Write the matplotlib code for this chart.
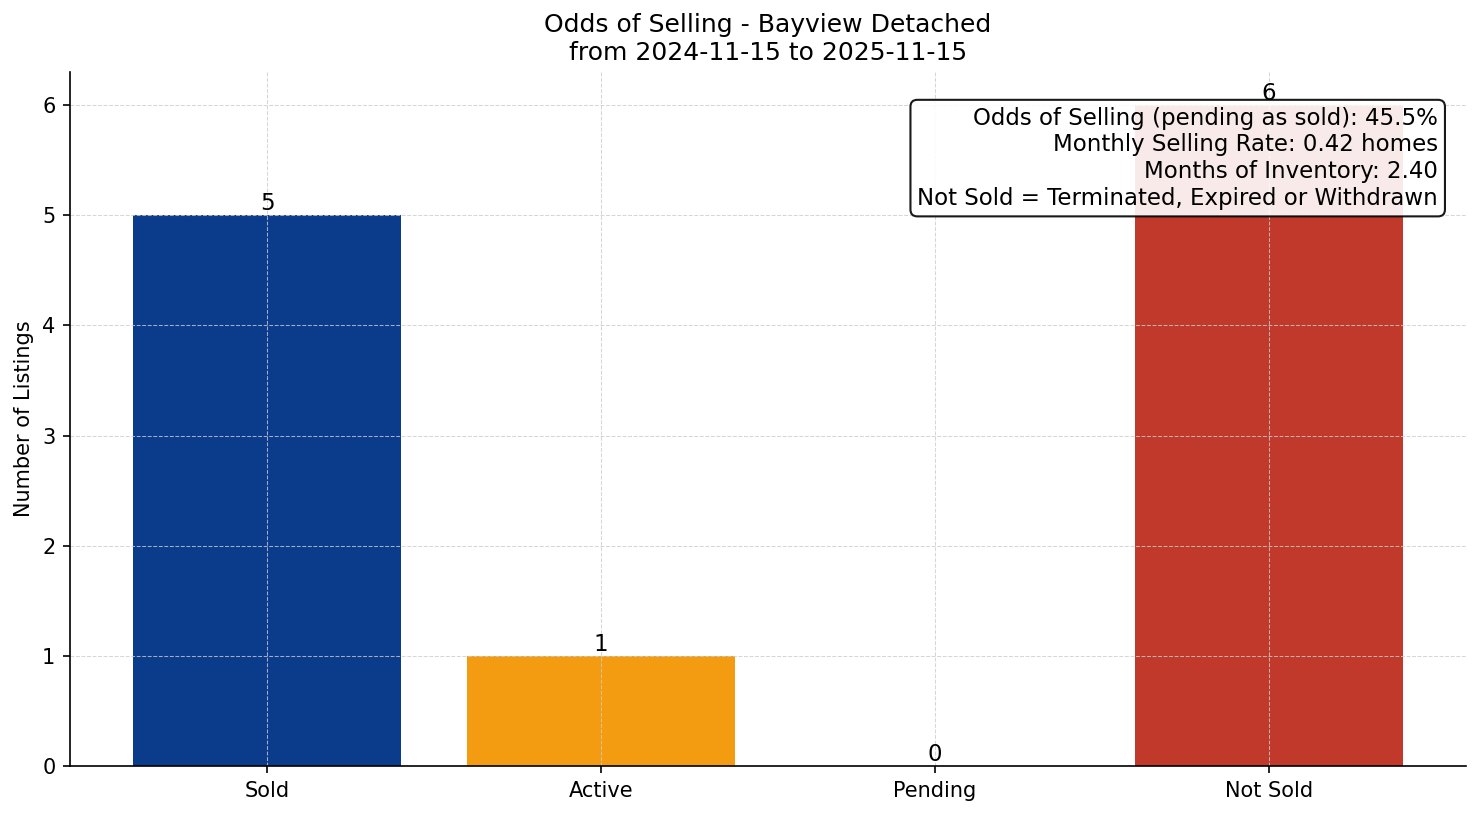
import matplotlib.pyplot as plt
import numpy as np

# Listing status counts
categories = ["Sold", "Active", "Pending", "Not Sold"]
counts = [5, 1, 0, 6]
bar_colors = ["#0B3C8C", "#F39C12", "#8E44AD", "#C0392B"]

odds_of_selling = 45.5
monthly_rate = 0.42
months_inventory = 2.40

fig, ax = plt.subplots(figsize=(1481 / 150, 816 / 150), dpi=150)

x = np.arange(len(categories))
bars = ax.bar(x, counts, color=bar_colors, width=0.8)
ax.bar_label(bars, labels=[str(c) for c in counts], fontsize=11)

ax.set_xticks(x)
ax.set_xticklabels(categories)
ax.set_ylabel("Number of Listings")
ax.set_ylim(0, max(counts) * 1.05)
ax.set_title("Odds of Selling - Bayview Detached\nfrom 2024-11-15 to 2025-11-15", fontsize=12)
ax.grid(True, linestyle="--", linewidth=0.5, color="#cccccc", alpha=0.8)
ax.spines["top"].set_visible(False)
ax.spines["right"].set_visible(False)

info = (f"Odds of Selling (pending as sold): {odds_of_selling:.1f}%\n"
        f"Monthly Selling Rate: {monthly_rate:.2f} homes\n"
        f"Months of Inventory: {months_inventory:.2f}\n"
        "Not Sold = Terminated, Expired or Withdrawn")
ax.text(0.98, 0.95, info, transform=ax.transAxes, ha="right", va="top", fontsize=11,
        bbox=dict(boxstyle="round", facecolor="white", edgecolor="black", alpha=0.9))

fig.subplots_adjust(left=70 / 1481, right=1466 / 1481, top=1 - 72 / 816, bottom=1 - 766 / 816)
fig.savefig("out.png", dpi=150)
